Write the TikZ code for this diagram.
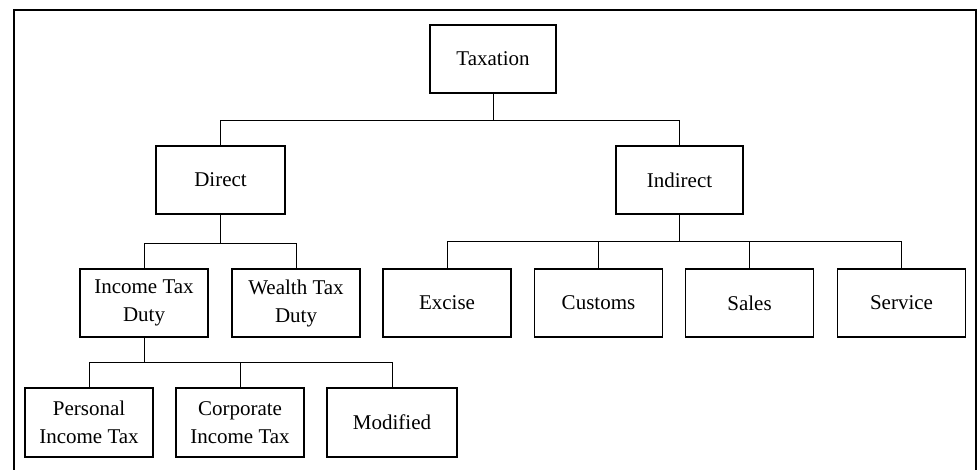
\documentclass[tikz,border=0pt]{standalone}
\usepackage{fontspec}
\setmainfont{Liberation Serif}
\begin{document}
\begin{tikzpicture}[x=1pt,y=-1pt,
  tbox/.style={draw, line width=1.2pt, rectangle, minimum width=128pt, minimum height=68pt,
    inner sep=2pt, align=center, font=\fontsize{21}{28}\selectfont},
  conn/.style={line width=1pt},
  frame/.style={line width=1.2pt}]
\useasboundingbox (0,0) rectangle (977,470);
\draw[frame] (14,470) -- (14,10) -- (976,10) -- (976,470);

\node[tbox, minimum width=126pt] (tax) at (493,59) {Taxation};
\node[tbox, minimum width=129pt] (dir) at (220.5,180) {Direct};
\node[tbox, minimum width=127pt] (ind) at (679.5,180) {Indirect};

\node[tbox] (inc) at (144,303) {Income Tax\\Duty};
\node[tbox] (wea) at (296,303) {Wealth Tax\\Duty};

\node[tbox] (exc) at (447,303) {Excise};
\node[tbox] (cus) at (598.5,303) {Customs};
\node[tbox] (sal) at (749.5,303) {Sales};
\node[tbox] (ser) at (901.5,303) {Service};

\node[tbox, minimum height=69pt] (per) at (89,422.5) {Personal\\Income Tax};
\node[tbox, minimum height=69pt] (cor) at (240,422.5) {Corporate\\Income Tax};
\node[tbox, minimum height=69pt, minimum width=130pt] (mod) at (392,422.5) {Modified};

% Taxation -> Direct / Indirect
\draw[conn] (tax.south) -- ++(0,27) coordinate (j1);
\draw[conn] (dir.north) |- (j1) -| (ind.north);

% Direct -> Income / Wealth
\draw[conn] (dir.south) -- ++(0,29) coordinate (j2);
\draw[conn] (inc.north) |- (j2) -| (wea.north);

% Indirect -> Excise, Customs, Sales, Service
\draw[conn] (ind.south) -- ++(0,27) coordinate (j3);
\draw[conn] (exc.north) |- (j3) -| (ser.north);
\draw[conn] (cus.north) -- (cus.north |- j3);
\draw[conn] (sal.north) -- (sal.north |- j3);

% Income Tax Duty -> Personal, Corporate, Modified
\draw[conn] (inc.south) -- ++(0,25) coordinate (j4);
\draw[conn] (per.north) |- (j4) -| (mod.north);
\draw[conn] (cor.north) -- (cor.north |- j4);
\end{tikzpicture}
\end{document}
